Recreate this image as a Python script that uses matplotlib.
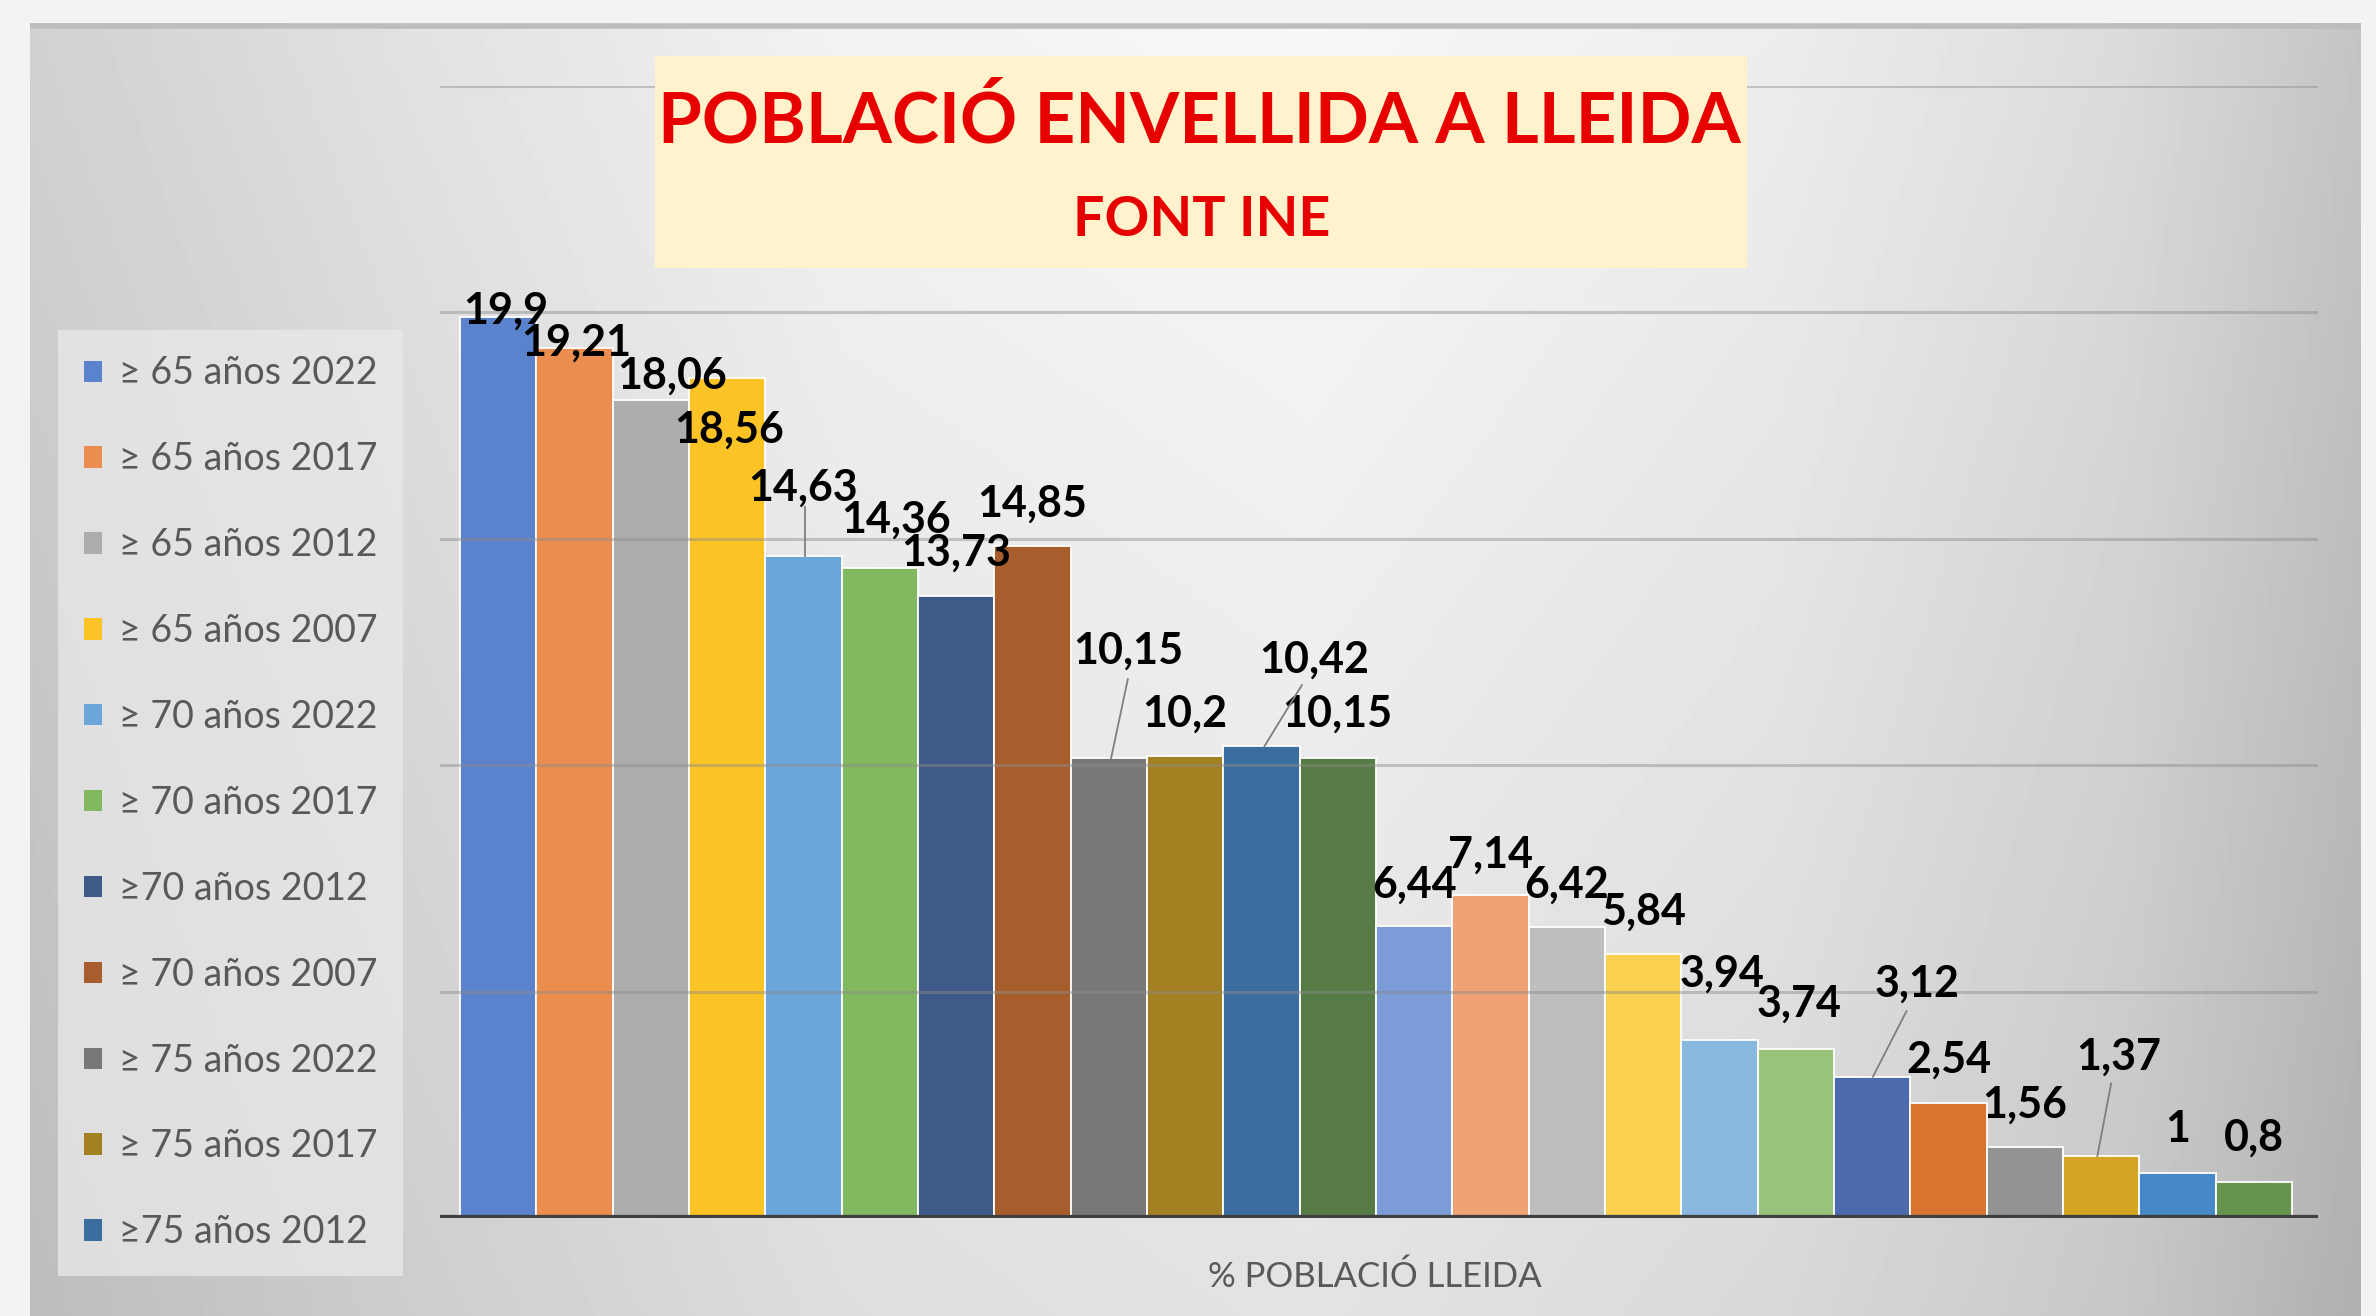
import numpy as np
import matplotlib
matplotlib.use("Agg")
import matplotlib.pyplot as plt
from matplotlib.patches import Rectangle, Patch

plt.rcParams['font.family'] = ['Lato', 'DejaVu Sans']

# data (one bar per series, single category)
values = [19.9, 19.21, 18.06, 18.56, 14.63, 14.36, 13.73, 14.85,
          10.15, 10.2, 10.42, 10.15, 6.44, 7.14, 6.42, 5.84,
          3.94, 3.74, 3.12, 2.54, 1.56, 1.37, 1, 0.8]
legend_labels = ["≥ 65 años 2022", "≥ 65 años 2017", "≥ 65 años 2012", "≥ 65 años 2007",
                 "≥ 70 años 2022", "≥ 70 años 2017", "≥70 años 2012", "≥ 70 años 2007",
                 "≥ 75 años 2022", "≥ 75 años 2017", "≥75 años 2012"]
colors = ["#5B82CC", "#EB8D4E", "#ADADAD", "#FBC326", "#6CA5DA", "#82B860",
          "#3F5A88", "#A75E2C", "#787878", "#A38021", "#3B6E9E", "#577B45",
          "#7B9CD6", "#EFA274", "#BEBEBE", "#F9D050", "#88B7E0", "#98C47A",
          "#4B6BAD", "#D97430", "#939393", "#D3A524", "#4788C8", "#66944D"]
yticks = [0, 5, 10, 15, 20, 25]

# label placement (offset from bar centre / bar top)
label_off = [(0.1, 0.13), (0.03, 0.12), (0.28, 0.54), (0.03, -1.16), (0.0, 1.5),
             (0.21, 1.07), (0.0, 0.97), (0.0, 0.92), (0.25, 2.38), (0.0, 0.93),
             (0.69, 1.91), (0.0, 0.98), (0.0, 0.93), (0.0, 0.89), (0.0, 0.95),
             (0.0, 0.93), (0.03, 1.46), (0.04, 0.99), (0.59, 2.05), (0.0, 0.96),
             (0.0, 0.94), (0.23, 2.2), (0.0, 0.97), (0.0, 0.97)]
# leader lines: idx -> (start dx, start dy above top, end dx)
leaders = {4: (0.02, 1.07, 0.02), 8: (0.25, 1.75, 0.03), 10: (0.53, 1.35, 0.04),
           18: (0.45, 1.45, 0.01), 21: (0.13, 1.6, -0.05)}

W, H = 2376, 1316
fig = plt.figure(figsize=(W / 100, H / 100), dpi=100)
fig.patch.set_facecolor("#F3F4F2")

# chart frame with grey gradient
bg = fig.add_axes([30 / W, 0, (2361 - 30) / W, (H - 23) / H], zorder=-2)
u = np.linspace(0, 1, 400)
v = np.linspace(0, 1, 200)[:, None]
hx = np.interp(u, [0, 0.15, 0.35, 0.55, 0.75, 0.9, 1.0],
               [0.80, 0.86, 0.93, 0.95, 0.91, 0.84, 0.75])
grad = np.clip(hx[None, :] + 0.02 - 0.08 * v, 0, 1)
bg.imshow(grad, cmap="gray", vmin=0, vmax=1, aspect="auto", extent=(0, 1, 0, 1))
bg.set_xlim(0, 1)
bg.set_ylim(0, 1)
bg.axhline(0.998, color="#BDBDBD", lw=4)
bg.axis("off")

ax = fig.add_axes([440 / W, 1 - 1218 / H, (2318 - 440) / W, (1218 - 86) / H])
ax.patch.set_alpha(0)
x = np.arange(len(values))
bars = ax.bar(x, values, width=1.0, color=colors, edgecolor="white", linewidth=1.3, zorder=2)
ax.set_xlim(-0.76, len(values) - 0.5 + 0.34)
ax.set_ylim(0, 25)
for t in yticks[1:]:
    ax.axhline(t, color="#8C8C8C", lw=2.2, alpha=0.45, zorder=3)
ax.axhline(0, color="#404040", lw=4.5, zorder=5)
for s in ax.spines.values():
    s.set_visible(False)
ax.set_xticks([])
ax.set_yticks([])

for i, val in enumerate(values):
    dx, dy = label_off[i]
    ax.text(i + dx, val + dy, f"{val:g}".replace(".", ","), ha="center", va="center",
            fontsize=31, fontweight="bold", color="black", zorder=6)
for i, (sx, sy, ex) in leaders.items():
    ax.plot([i + sx, i + ex], [values[i] + sy, values[i]], color="#7F7F7F", lw=1.3, zorder=6)

fig.text(1375 / W, 1 - 1277 / H, "% POBLACIÓ LLEIDA", ha="center", va="center",
         fontsize=25, color="#595959")

# legend (only the visible entries)
handles = [Patch(facecolor=colors[k], edgecolor="none") for k in range(len(legend_labels))]
leg = fig.legend(handles, legend_labels, loc="upper left",
                 bbox_to_anchor=(58 / W, 1 - 330 / H), borderaxespad=0, fontsize=27,
                 handlelength=0.5, handleheight=0.5, handletextpad=0.45,
                 labelspacing=1.33, borderpad=0.68, fancybox=False, frameon=True)
leg.get_frame().set_facecolor("#E9E9E9")
leg.get_frame().set_alpha(0.75)
leg.get_frame().set_edgecolor("none")
for t in leg.get_texts():
    t.set_color("#595959")

# title box
fig.patches.append(Rectangle((655 / W, 1 - 268 / H), (1747 - 655) / W, (268 - 56) / H,
                             transform=fig.transFigure, facecolor="#FFF2CC",
                             edgecolor="none", zorder=1))
fig.text(1199 / W, 1 - 121 / H, "POBLACIÓ ENVELLIDA A LLEIDA", ha="center", va="center",
         fontsize=51, fontweight="bold", color="#E60000", zorder=2)
fig.text(1202 / W, 1 - 220 / H, "FONT INE", ha="center", va="center",
         fontsize=40, fontweight="bold", color="#E60000", zorder=2)

fig.savefig("out.png", dpi=100, facecolor=fig.get_facecolor())
